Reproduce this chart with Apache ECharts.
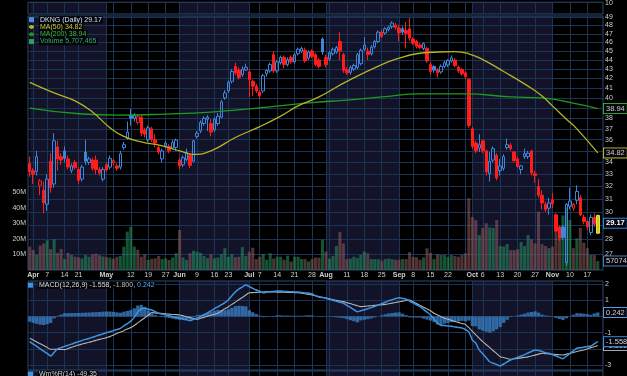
<!DOCTYPE html>
<html><head><meta charset="utf-8">
<script src="https://cdn.jsdelivr.net/npm/echarts@6/dist/echarts.min.js"></script>
<style>html,body{margin:0;padding:0;background:#000;overflow:hidden}#c{width:627px;height:376px}</style>
</head><body><div id="c"></div>
<script>
// ---------- DATA ----------
const dates = ['3/31',
'4/1','4/2','4/3','4/4','4/7','4/8','4/9','4/10','4/11','4/14','4/15','4/16','4/17','4/21','4/22','4/23','4/24','4/25','4/28','4/29','4/30',
'5/1','5/2','5/5','5/6','5/7','5/8','5/9','5/12','5/13','5/14','5/15','5/16','5/19','5/20','5/21','5/22','5/23','5/27','5/28','5/29','5/30',
'6/2','6/3','6/4','6/5','6/6','6/9','6/10','6/11','6/12','6/13','6/16','6/17','6/18','6/20','6/23','6/24','6/25','6/26','6/27','6/30',
'7/1','7/2','7/3','7/7','7/8','7/9','7/10','7/11','7/14','7/15','7/16','7/17','7/18','7/21','7/22','7/23','7/24','7/25','7/28','7/29','7/30','7/31',
'8/1','8/4','8/5','8/6','8/7','8/8','8/11','8/12','8/13','8/14','8/15','8/18','8/19','8/20','8/21','8/22','8/25','8/26','8/27','8/28','8/29',
'9/2','9/3','9/4','9/5','9/8','9/9','9/10','9/11','9/12','9/15','9/16','9/17','9/18','9/19','9/22','9/23','9/24','9/25','9/26','9/29','9/30',
'10/1','10/2','10/3','10/6','10/7','10/8','10/9','10/10','10/13','10/14','10/15','10/16','10/17','10/20','10/21','10/22','10/23','10/24','10/27','10/28','10/29','10/30','10/31',
'11/3','11/4','11/5','11/6','11/7','11/10','11/11','11/12','11/13','11/14','11/17','11/18','11/19','11/20','11/21'];

const open  = [33.9,33.3,33.24,32.1,31.7,30.6,34.1,32.2,35.35,34.5,35.0,34.3,33.3,34.0,33.4,32.6,34.9,34.0,34.2,34.2,33.4,32.6,33.8,33.6,33.95,33.7,33.6,35.3,36.1,38.3,38.0,37.6,38.1,36.9,36.0,37.0,36.0,35.3,34.3,35.4,35.4,35.25,35.3,34.2,33.8,34.25,34.6,34.1,36.3,36.8,37.5,37.9,37.5,36.9,37.5,38.1,40.0,40.7,41.7,43.3,42.9,42.4,42.9,42.7,41.7,41.2,40.6,40.7,42.5,42.8,44.6,42.8,43.7,44.3,43.5,44.3,43.8,44.7,45.0,45.1,44.2,45.0,44.6,44.0,46.4,44.3,44.1,44.7,44.9,46.1,44.6,42.95,42.65,43.0,43.2,43.6,45.2,45.0,44.7,45.5,46.1,47.2,47.1,47.5,47.85,48.05,47.7,47.6,47.4,47.6,46.4,46.1,45.7,45.3,45.3,43.5,43.3,42.95,42.7,43.3,43.45,43.9,44.0,43.2,42.95,42.6,41.9,37.0,35.7,35.25,35.9,35.0,33.05,34.2,34.6,33.3,33.5,35.3,35.5,34.9,34.3,33.4,34.5,34.5,35.0,33.05,32.0,31.3,30.6,30.3,30.95,29.8,28.9,28.9,26.4,30.45,30.3,30.9,31.1,29.6,29.3,28.5,29.6,28.45];
const high  = [34.5,33.5,35.0,32.6,32.4,33.0,34.8,36.6,35.9,34.8,35.4,34.6,33.9,34.2,33.6,33.8,36.0,34.5,34.4,34.6,33.6,33.6,34.0,34.6,34.3,33.9,35.0,35.8,37.7,38.9,38.5,38.4,38.3,37.1,37.3,37.2,36.5,35.5,35.2,35.9,35.6,36.0,36.1,34.4,34.6,35.2,34.8,36.0,36.8,37.8,38.2,38.3,37.9,38.1,38.5,39.8,40.8,41.8,43.0,43.7,43.2,43.3,43.6,43.0,41.9,41.4,40.8,42.5,43.0,43.7,45.0,44.0,44.5,44.5,44.3,44.5,44.8,45.4,45.5,45.4,45.1,45.2,44.8,44.2,46.6,44.6,45.0,45.4,45.6,47.2,44.8,43.2,43.4,43.6,44.8,45.3,46.6,45.4,45.7,46.3,47.4,47.5,47.8,48.0,48.5,48.3,48.1,47.9,48.4,48.9,46.6,46.3,45.9,46.0,45.5,43.8,43.4,43.1,43.5,43.9,44.1,44.5,44.2,43.4,43.1,42.8,42.0,37.2,35.9,36.5,36.0,35.1,34.9,35.4,34.8,34.3,34.7,36.1,35.7,35.0,34.5,33.8,35.2,35.0,35.1,33.3,32.6,31.7,30.8,31.1,31.5,29.9,29.0,29.0,30.7,31.9,30.7,32.1,31.3,29.8,29.4,29.8,29.9,29.8];
const low   = [32.8,32.2,32.9,31.3,29.9,30.1,31.5,31.9,33.3,33.8,34.0,33.4,33.1,33.4,32.2,32.4,33.8,33.8,33.3,33.0,32.9,32.4,33.2,33.4,33.7,33.3,33.4,35.1,36.0,37.3,37.7,37.4,36.3,36.2,35.8,35.8,35.3,34.7,34.0,35.2,34.8,35.1,35.0,33.4,33.6,34.1,33.5,34.0,36.1,36.6,37.3,36.8,36.3,36.7,37.3,38.0,39.8,40.5,41.5,42.4,41.9,42.2,42.8,40.1,40.2,40.5,39.9,40.5,42.2,42.6,42.6,42.6,43.5,43.1,43.3,43.6,43.6,44.5,44.8,43.7,44.0,44.2,43.3,43.1,44.6,43.2,43.9,44.5,44.7,44.0,42.6,42.4,42.4,42.8,43.0,43.4,45.0,44.0,44.5,45.3,45.9,46.5,46.9,47.3,47.6,47.5,46.1,46.9,45.3,46.2,45.7,45.3,45.2,45.1,43.7,42.4,42.6,42.1,42.5,43.1,43.2,43.7,43.2,42.6,42.3,41.9,37.1,35.2,34.8,34.9,34.8,32.9,32.4,34.0,32.5,32.9,33.3,35.1,35.0,34.0,33.5,33.0,34.3,34.3,32.9,32.3,31.1,30.2,30.0,29.8,30.3,28.55,27.9,28.0,26.2,30.2,30.1,30.6,29.7,29.1,28.7,28.3,28.9,28.4];
const close = [33.24,33.0,34.5,32.45,30.7,32.6,31.9,35.9,34.3,34.2,34.35,33.6,33.7,33.55,32.5,33.6,34.1,34.3,33.5,33.4,33.1,33.4,33.35,34.35,34.15,33.5,34.75,35.55,36.7,38.0,38.3,38.15,36.6,36.5,37.1,36.0,35.7,34.9,35.0,35.7,35.0,35.75,35.95,33.7,34.4,34.85,33.75,35.9,36.6,37.6,38.0,38.1,36.7,37.9,38.2,39.6,40.5,41.6,42.75,42.6,42.1,43.0,43.2,41.9,41.2,40.7,40.2,42.3,42.85,43.5,42.8,43.8,44.3,43.5,44.05,43.8,44.6,45.2,45.3,43.9,44.9,44.4,43.5,43.3,44.9,43.5,44.8,45.2,45.4,45.0,42.85,42.6,43.2,43.4,44.6,45.1,45.7,44.6,45.45,46.1,47.2,46.7,47.6,47.8,48.3,47.75,47.1,47.2,47.05,46.5,45.9,45.55,45.4,45.85,43.9,42.75,42.9,42.6,43.3,43.7,43.95,44.25,43.4,42.8,42.5,42.2,37.3,35.4,35.0,35.55,35.0,33.2,34.1,35.2,32.7,33.7,34.5,35.55,35.2,34.15,33.65,33.7,34.75,34.8,33.1,32.9,31.3,30.7,30.2,30.7,30.65,28.6,28.1,28.15,30.6,30.85,30.6,31.6,29.8,29.3,28.9,29.6,29.1,29.75];
// volume, millions of shares
const volumeM = [15,12.8,9.6,15.6,17,19,13.4,19.7,11,13.5,7,11,9.6,8.5,8,7.5,9.6,8.5,10,10.5,9.5,8.7,8.2,8,7.3,8.5,9,15,24.6,27.8,15,13,8.5,10,6.5,7.2,7.5,9,7,7.5,6.4,8,10.7,25.6,8,6.4,10.7,12.3,11.7,11,9,7.7,10.2,7.5,8,10.2,14,8.5,10.2,8.3,8.5,14.7,9,11.8,14.3,7,8.5,10.2,6.6,10.7,7.3,8.5,8.5,6.6,9.2,5.5,8.5,8.5,7,7,5.5,7,8,8,19.2,11.8,7.3,9,15.4,24.4,17,7,7.3,8.5,7.7,9.6,11.8,10.7,7,7,7,6,7,7.3,7,6.6,6.6,7,7,11.5,8.5,8.2,6.6,8,13.9,11,7,10,9.6,9.6,8.5,9.6,9,8.5,9.6,10.7,46,34,32,22.4,27,30,27.3,27,32,15.4,15,16.7,12.8,12.8,13.3,18,15.4,22.4,19.7,17,37.4,16.5,15.4,14,15,32.5,24.6,35,40,32,14,20.3,27,17.5,14,9.6,9.6,5.707465];
// moving averages read at sample days: [day index, value]
const ma50Pts  = [[0,41.6],[7,40.5],[13,39.7],[18,38.6],[23,37.1],[27,36.3],[32,35.8],[38,35.45],[43,35.0],[47,34.7],[52,35.0],[59,36.2],[66,37.2],[72,38.2],[77,39.2],[83,40.1],[91,41.7],[101,43.5],[106,44.2],[111,44.7],[117,44.9],[122,44.95],[126,44.7],[130,44.05],[136,42.75],[143,41.2],[147,40.2],[150,39.2],[154,37.9],[157,37.0],[163,34.82]];
const ma200Pts = [[0,38.99],[15,38.41],[25,38.3],[39,38.4],[52,38.6],[69,39.1],[80,39.5],[92,39.8],[101,40.1],[112,40.4],[125,40.4],[138,40.1],[147,40.0],[157,39.4],[163,38.94]];
const macd = [-1.56,-1.71,-1.85,-2.00,-2.15,-2.29,-2.44,-2.22,-2.00,-1.93,-1.85,-1.78,-1.71,-1.63,-1.56,-1.49,-1.42,-1.36,-1.29,-1.22,-1.15,-1.08,-1.01,-0.95,-0.88,-0.81,-0.74,-0.59,-0.44,-0.29,-0.06,0.27,0.47,0.51,0.44,0.39,0.29,0.19,0.14,0.09,0.04,-0.02,-0.07,-0.12,-0.17,-0.21,-0.26,-0.18,-0.10,-0.02,0.10,0.22,0.34,0.48,0.59,0.72,0.85,1.03,1.27,1.51,1.69,1.81,1.94,1.84,1.73,1.63,1.55,1.46,1.49,1.52,1.54,1.57,1.56,1.54,1.53,1.52,1.51,1.50,1.47,1.45,1.44,1.38,1.27,1.20,1.16,1.12,1.06,1.00,0.93,0.87,0.81,0.68,0.55,0.42,0.29,0.35,0.41,0.47,0.54,0.62,0.70,0.79,0.87,0.96,1.03,1.10,1.15,1.11,1.06,0.95,0.83,0.72,0.60,0.43,0.26,0.09,-0.16,-0.41,-0.55,-0.57,-0.59,-0.61,-0.65,-0.68,-0.72,-0.81,-0.96,-1.45,-1.66,-2.07,-2.31,-2.56,-2.80,-2.89,-2.97,-3.06,-2.94,-2.81,-2.69,-2.61,-2.53,-2.45,-2.36,-2.26,-2.17,-2.08,-2.10,-2.17,-2.24,-2.28,-2.36,-2.45,-2.53,-2.61,-2.45,-2.29,-2.13,-1.97,-1.93,-1.90,-1.86,-1.83,-1.69,-1.558];
const signal = [-1.35,-1.46,-1.58,-1.69,-1.80,-1.92,-2.03,-2.03,-2.04,-2.04,-2.05,-1.98,-1.91,-1.84,-1.77,-1.71,-1.65,-1.60,-1.54,-1.48,-1.42,-1.37,-1.31,-1.25,-1.16,-1.06,-0.97,-0.88,-0.78,-0.69,-0.56,-0.40,-0.24,-0.08,0.07,0.23,0.21,0.19,0.18,0.16,0.14,0.12,0.11,0.09,0.04,-0.02,-0.07,-0.13,-0.18,-0.12,-0.06,0.01,0.07,0.13,0.19,0.33,0.47,0.60,0.74,0.88,1.03,1.17,1.32,1.46,1.47,1.48,1.50,1.51,1.52,1.51,1.51,1.50,1.50,1.49,1.48,1.48,1.47,1.46,1.43,1.40,1.37,1.32,1.27,1.22,1.18,1.13,1.08,1.04,0.99,0.95,0.91,0.85,0.79,0.72,0.66,0.60,0.62,0.64,0.66,0.68,0.70,0.72,0.74,0.78,0.82,0.86,0.90,0.94,0.98,1.01,0.90,0.79,0.68,0.57,0.46,0.35,0.19,0.09,-0.02,-0.12,-0.17,-0.25,-0.31,-0.37,-0.44,-0.50,-0.70,-0.92,-1.14,-1.36,-1.56,-1.75,-1.93,-2.12,-2.30,-2.49,-2.54,-2.60,-2.65,-2.62,-2.59,-2.56,-2.53,-2.50,-2.44,-2.39,-2.33,-2.28,-2.30,-2.32,-2.34,-2.35,-2.37,-2.38,-2.33,-2.28,-2.23,-2.17,-2.12,-2.07,-2.00,-1.93,-1.87,-1.80];
const hist = [-0.33,-0.40,-0.46,-0.51,-0.53,-0.48,-0.40,-0.12,0.04,0.11,0.20,0.20,0.20,0.21,0.21,0.22,0.23,0.24,0.25,0.26,0.27,0.29,0.30,0.30,0.28,0.25,0.23,0.29,0.34,0.40,0.50,0.67,0.71,0.59,0.37,0.16,0.08,0.00,-0.04,-0.07,-0.10,-0.14,-0.18,-0.21,-0.21,-0.19,-0.19,-0.05,0.08,0.10,0.16,0.21,0.27,0.35,0.40,0.39,0.38,0.43,0.53,0.63,0.66,0.64,0.62,0.38,0.26,0.15,0.05,-0.05,-0.03,0.01,0.03,0.07,0.06,0.05,0.05,0.04,0.04,0.04,0.04,0.05,0.07,0.06,0.00,-0.02,-0.02,-0.01,-0.02,-0.04,-0.06,-0.08,-0.10,-0.17,-0.24,-0.30,-0.37,-0.25,-0.21,-0.17,-0.12,-0.06,0.00,0.07,0.13,0.18,0.21,0.24,0.25,0.17,0.08,-0.06,-0.07,-0.07,-0.08,-0.14,-0.20,-0.26,-0.35,-0.50,-0.53,-0.45,-0.42,-0.36,-0.34,-0.31,-0.28,-0.31,-0.26,-0.60,-0.62,-0.80,-0.88,-0.95,-1.00,-0.92,-0.80,-0.66,-0.40,-0.21,-0.04,0.01,0.06,0.11,0.17,0.24,0.27,0.31,0.23,0.11,0.06,0.04,-0.02,-0.10,-0.16,-0.23,-0.12,-0.01,0.10,0.20,0.19,0.17,0.14,0.10,0.18,0.242];
const priceTicks = [27,28,29,30,31,32,33,34,35,36,37,38,39,40,41,42,43,44,45,46,47,48,49];
const volTicks = [10,20,30,40,50];
const macdTicks = [-3,-2,-1,0,1,2];
const topTicks = [10];
const xLabelDates = ['4/1','4/7','4/14','4/21','5/1','5/12','5/19','5/27','6/2','6/9','6/16','6/23','7/1','7/7','7/14','7/21','7/28','8/1','8/11','8/18','8/25','9/2','9/8','9/15','9/22','10/1','10/6','10/13','10/20','10/27','11/3','11/10','11/17'];
const xLabelTexts = ['Apr','7','14','21','May','12','19','27','Jun','9','16','23','Jul','7','14','21','28','Aug','11','18','25','Sep','8','15','22','Oct','6','13','20','27','Nov','10','17'];
const extraGridDates = ['5/5','8/4','9/29'];
const shadedMonths = [['3/31','5/1'],['6/2','7/1'],['8/1','9/2'],['10/1','11/3']];
const legendValues = {'DKNG (Daily)':'29.17','MA(50)':'34.82','MA(200)':'38.94','Volume':'5,707,465','Wm%R(14)':'-49.35'};
const macdLegend = ['-1.558,','-1.800,','0.242'];
const lastIndex = 163;

// ---------- STYLE ----------
const FONT = 'Liberation Sans';
const BG = '#000000', SHADE = '#121229', GRID = '#1b3454', BORDER = '#2b4a70';
const TXT = '#cfcfcf';
const BLUE = '#3f86db', RED = '#ff1c1c', YEL = '#c9c926';
const VUP = 'rgba(40,150,95,0.55)', VDN = 'rgba(145,92,92,0.55)';

const labelMap = {};
xLabelDates.forEach((d, i) => labelMap[d] = xLabelTexts[i]);
const gridDates = xLabelDates.concat(extraGridDates);

const candleData = open.map((o, i) => {
  const c = close[i], prev = i > 0 ? close[i - 1] : o;
  let col = c >= prev ? BLUE : RED;
  let fill = c >= o ? 'transparent' : col;
  let bcol = col;
  if (i === lastIndex) { fill = YEL; bcol = '#e2e23c'; }
  return {value: [o, c, low[i], high[i]], itemStyle: {color: fill, color0: fill, borderColor: bcol, borderColor0: bcol}};
});
const volData = volumeM.map((v, i) => {
  const up = i === 0 ? close[0] >= open[0] : close[i] >= close[i - 1];
  return {value: v, itemStyle: {color: up ? VUP : VDN}};
});
const ma50Data = ma50Pts.map(p => [dates[p[0]], p[1]]);
const ma200Data = ma200Pts.map(p => [dates[p[0]], p[1]]);

function shade() {
  return {silent: true, z: -1, itemStyle: {color: SHADE}, data: shadedMonths.map(r => [{xAxis: r[0]}, {xAxis: r[1]}])};
}
function vlines() {
  return {silent: true, z: 1, symbol: ['none', 'none'], animation: false, label: {show: false},
    emphasis: {disabled: true}, lineStyle: {color: GRID, width: 1, type: 'solid'},
    data: gridDates.map(d => ({xAxis: d}))};
}
function tag(value, text, border, color, bold, z) {
  return {silent: true, z: z || 10, symbol: ['none', 'none'], animation: false, emphasis: {disabled: true},
    lineStyle: {color: 'rgba(0,0,0,0)', width: 0, opacity: 1},
    label: {show: true, opacity: 1, position: 'end', distance: 1, formatter: text, color: color, fontFamily: FONT,
      fontSize: 7.5, fontWeight: bold ? 'bold' : 'normal', backgroundColor: '#05050d',
      borderColor: border, borderWidth: 1, padding: [1, 2, 0, 2]},
    data: [{yAxis: value}]};
}
const emptyData = dates.map(() => null);

const gridBase = {show: true, borderColor: BORDER, borderWidth: 1, backgroundColor: 'transparent', left: 28, right: 24};
const grids = [
  Object.assign({}, gridBase, {top: 0, height: 14}),
  Object.assign({}, gridBase, {top: 16, height: 254}),
  Object.assign({}, gridBase, {top: 281, height: 89}),
  Object.assign({}, gridBase, {top: 371, height: 60})
];
const xAxes = [0, 1, 2, 3].map(i => ({
  type: 'category', gridIndex: i, data: dates, boundaryGap: true,
  axisLine: {show: false}, axisTick: {show: false}, splitLine: {show: false},
  axisLabel: i === 1 ? {
    show: true, interval: (idx, val) => labelMap[val] !== undefined, margin: 2,
    color: TXT, fontSize: 7, fontFamily: FONT,
    formatter: v => { const t = labelMap[v]; return /^[A-Z]/.test(t) ? '{m|' + t + '}' : t; },
    rich: {m: {fontWeight: 'bold', fontSize: 7, color: TXT, fontFamily: FONT}}
  } : {show: false}
}));
const lbl = {color: TXT, fontSize: 7, fontFamily: FONT, margin: 2};
const yAxes = [
  {type: 'value', gridIndex: 0, position: 'right', min: 0, max: 11.2, axisLine: {show: false},
    axisTick: {show: false}, splitLine: {show: false}, axisLabel: Object.assign({customValues: topTicks}, lbl)},
  {type: 'log', gridIndex: 1, position: 'right', min: 25.93, max: 49.16, z: 1, axisLine: {show: false},
    axisTick: {show: false, customValues: priceTicks},
    axisLabel: Object.assign({customValues: priceTicks}, lbl),
    splitLine: {show: true, lineStyle: {color: GRID, width: 1}}},
  {type: 'value', gridIndex: 1, position: 'left', min: 0, max: 162.8, axisLine: {show: false},
    axisTick: {show: false}, splitLine: {show: false},
    axisLabel: Object.assign({customValues: volTicks, formatter: '{value}M'}, lbl)},
  {type: 'value', gridIndex: 2, position: 'right', min: -3.31, max: 2.185, z: 1, axisLine: {show: false},
    axisTick: {show: false, customValues: macdTicks},
    axisLabel: Object.assign({customValues: macdTicks}, lbl),
    splitLine: {show: true, lineStyle: {color: GRID, width: 1}}},
  {type: 'value', gridIndex: 3, min: -100, max: 0, axisLine: {show: false}, axisTick: {show: false},
    splitLine: {show: false}, axisLabel: {show: false}}
];

const series = [];
[0, 1, 2, 3].forEach(g => {
  series.push({type: 'line', name: '_grid' + g, xAxisIndex: g, yAxisIndex: g === 1 ? 1 : (g === 2 ? 3 : (g === 3 ? 4 : 0)),
    data: emptyData, symbol: 'none', silent: true, lineStyle: {opacity: 0}, markArea: shade(), markLine: vlines()});
});
series.push({type: 'bar', name: 'Volume', xAxisIndex: 1, yAxisIndex: 2, z: 2, barCategoryGap: '12%',
  data: volData, itemStyle: {color: VUP}, markLine: tag(5.707465, '5707465', '#4f7fb0', TXT, false)});
series.push({type: 'candlestick', name: 'DKNG (Daily)', xAxisIndex: 1, yAxisIndex: 1, z: 3, barWidth: 3,
  data: candleData, itemStyle: {borderWidth: 1}, markLine: tag(29.17, '29.17', '#3a7fd0', '#ffffff', true, 12)});
series.push({type: 'line', name: 'MA(200)', xAxisIndex: 1, yAxisIndex: 1, z: 4, data: ma200Data, smooth: 0.5,
  symbol: 'none', lineStyle: {color: '#1f9a1f', width: 1.3}, itemStyle: {color: '#1f9a1f'},
  markLine: tag(38.94, '38.94', '#2ea82e', TXT, false)});
series.push({type: 'line', name: 'MA(50)', xAxisIndex: 1, yAxisIndex: 1, z: 4, data: ma50Data, smooth: 0.5,
  symbol: 'none', lineStyle: {color: '#b3b328', width: 1.3}, itemStyle: {color: '#b3b328'},
  markLine: tag(34.82, '34.82', '#b8b828', TXT, false)});
series.push({type: 'bar', name: 'MACD Hist', xAxisIndex: 2, yAxisIndex: 3, z: 2, barCategoryGap: '5%',
  data: hist, itemStyle: {color: 'rgba(58,128,196,0.8)'}, markLine: tag(0.242, '0.242', '#5a9ad6', TXT, false)});
series.push({type: 'line', name: 'Signal', xAxisIndex: 2, yAxisIndex: 3, z: 3, data: signal, smooth: 0.3,
  symbol: 'none', lineStyle: {color: '#b4b4b4', width: 1.1}, markLine: tag(-1.800, '-1.800', '#b0b0b0', TXT, false, 10)});
series.push({type: 'line', name: 'MACD(12,26,9)', xAxisIndex: 2, yAxisIndex: 3, z: 4, data: macd, smooth: 0.3,
  symbol: 'none', lineStyle: {color: '#3d94e0', width: 1.5}, itemStyle: {color: '#3d94e0'},
  markLine: tag(-1.558, '-1.558', '#3d94e0', TXT, false, 11)});
series.push({type: 'line', name: 'Wm%R(14)', xAxisIndex: 3, yAxisIndex: 4, data: [], symbol: 'none',
  itemStyle: {color: '#3d94e0'}, lineStyle: {color: '#3d94e0'}});

const legTxt = {fontSize: 7, fontFamily: FONT, lineHeight: 7.3, padding: [0, 1, 0, 1], backgroundColor: 'rgba(0,0,0,0.8)'};
const legends = [
  {left: 28, top: 16, orient: 'vertical', itemGap: 0, itemWidth: 5, itemHeight: 5, padding: 0, selectedMode: false,
    textStyle: legTxt, formatter: n => n + ' ' + legendValues[n],
    data: [
      {name: 'DKNG (Daily)', icon: 'rect', itemStyle: {color: '#4a8fdd', borderWidth: 0}, textStyle: {color: '#d2e2f6'}},
      {name: 'MA(50)', textStyle: {color: '#cdcd3c'}},
      {name: 'MA(200)', textStyle: {color: '#3cbf3c'}},
      {name: 'Volume', icon: 'rect', itemStyle: {color: '#2e9c68'}, textStyle: {color: '#35b07c'}}
    ]},
  {left: 28, top: 281.5, orient: 'vertical', itemWidth: 5, itemHeight: 5, padding: 0, selectedMode: false,
    textStyle: Object.assign({}, legTxt, {rich: {
      a: {color: '#dcdcdc', fontSize: 7, fontFamily: FONT},
      b: {color: '#bcbcbc', fontSize: 7, fontFamily: FONT},
      c: {color: '#5aa6ee', fontSize: 7, fontFamily: FONT}}}),
    formatter: n => '{a|' + n + ' ' + macdLegend[0] + '} {b|' + macdLegend[1] + '} {c|' + macdLegend[2] + '}',
    data: [{name: 'MACD(12,26,9)', icon: 'rect', itemStyle: {color: '#3d94e0'}}]},
  {left: 28, top: 370.5, orient: 'vertical', itemWidth: 5, itemHeight: 5, padding: 0, selectedMode: false,
    textStyle: Object.assign({}, legTxt, {color: '#cfcfcf'}), formatter: n => n + ' ' + legendValues[n],
    data: [{name: 'Wm%R(14)', icon: 'rect', itemStyle: {color: '#3d94e0'}}]}
];

const chart = echarts.init(document.getElementById('c'), null, {renderer: 'canvas', width: 627, height: 376});
chart.setOption({
  backgroundColor: BG, animation: false, textStyle: {fontFamily: FONT},
  grid: grids, xAxis: xAxes, yAxis: yAxes, legend: legends, series: series
});
</script></body></html>
